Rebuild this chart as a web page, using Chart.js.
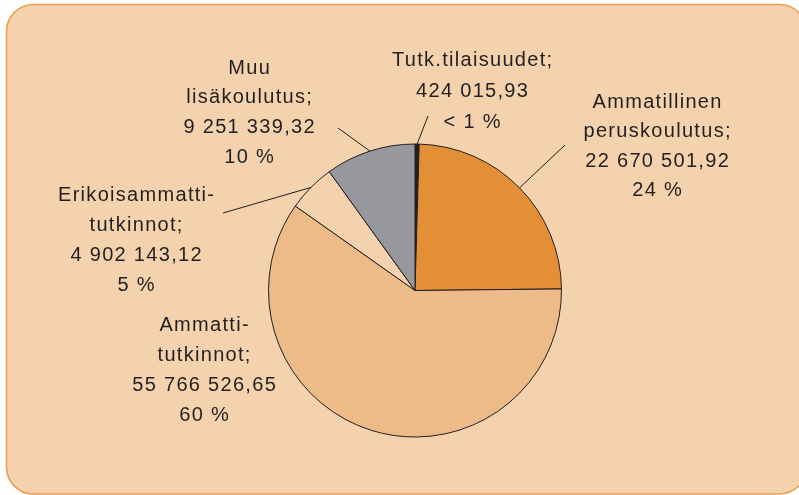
<!DOCTYPE html>
<html>
<head>
<meta charset="utf-8">
<script src="https://cdn.jsdelivr.net/npm/chart.js@4/dist/chart.umd.min.js"></script>
<style>
html,body{margin:0;padding:0;background:#ffffff;}
#wrap{position:relative;width:799px;height:495px;}
</style>
</head>
<body>
<div id="wrap"><canvas id="c" width="799" height="495"></canvas></div>
<script>
// ---- data ----
const categories = ["Tutk.tilaisuudet", "Ammatillinen peruskoulutus", "Ammattitutkinnot", "Erikoisammattitutkinnot", "Muu lisäkoulutus"];
const values = [424015.93, 22670501.92, 55766526.65, 4902143.12, 9251339.32];
const percentLabels = ["< 1 %", "24 %", "60 %", "5 %", "10 %"];
const nameLines = [["Tutk.tilaisuudet;"], ["Ammatillinen", "peruskoulutus;"], ["Ammatti-", "tutkinnot;"], ["Erikoisammatti-", "tutkinnot;"], ["Muu", "lisäkoulutus;"]];

// ---- styles ----
const sliceColors = ["#231F20", "#E38F36", "#ECBB88", "#F4D2AE", "#96989D"];
const bgColor = "#F4D2AE";
const frameColor = "#E8A055";
const textColor = "#231F20";

// label layout: centre x, first line y, line step, leader outer point (or null)
const labelLayout = [
  {x: 472, y: 60, step: 31, leader: [428, 116]},
  {x: 657, y: 102, step: 29.5, leader: [565, 145]},
  {x: 204, y: 325, step: 30, leader: null},
  {x: 136, y: 195, step: 30, leader: [223, 213]},
  {x: 249, y: 68, step: 29.8, leader: [338, 128]}
];

function fmt(v) {
  const parts = v.toFixed(2).split(".");
  const intPart = parts[0].replace(/\B(?=(\d{3})+(?!\d))/g, " ");
  return intPart + "," + parts[1];
}

const framePlugin = {
  id: "frame",
  beforeDraw(chart) {
    const ctx = chart.ctx;
    ctx.save();
    ctx.fillStyle = "#ffffff";
    ctx.fillRect(0, 0, chart.width, chart.height);
    const x = 6.5, y = 4.5, w = 800, h = 489.5, r = 27;
    ctx.beginPath();
    ctx.moveTo(x + r, y);
    ctx.lineTo(x + w - r, y);
    ctx.arcTo(x + w, y, x + w, y + r, r);
    ctx.lineTo(x + w, y + h - r);
    ctx.arcTo(x + w, y + h, x + w - r, y + h, r);
    ctx.lineTo(x + r, y + h);
    ctx.arcTo(x, y + h, x, y + h - r, r);
    ctx.lineTo(x, y + r);
    ctx.arcTo(x, y, x + r, y, r);
    ctx.closePath();
    ctx.fillStyle = bgColor;
    ctx.fill();
    ctx.lineWidth = 1.6;
    ctx.strokeStyle = frameColor;
    ctx.stroke();
    ctx.restore();
  }
};

const labelPlugin = {
  id: "labels",
  afterDraw(chart) {
    const ctx = chart.ctx;
    const meta = chart.getDatasetMeta(0);
    ctx.save();
    ctx.font = "20px 'Liberation Sans', Arial, sans-serif";
    ctx.letterSpacing = "1.3px";
    ctx.fillStyle = textColor;
    ctx.textAlign = "center";
    ctx.textBaseline = "middle";
    meta.data.forEach((arc, i) => {
      const L = labelLayout[i];
      const lines = nameLines[i].concat([fmt(values[i]), percentLabels[i]]);
      lines.forEach((t, k) => {
        ctx.fillText(t, L.x + 0.65, L.y + k * L.step);
      });
      if (L.leader) {
        const p = arc.getProps(["x", "y", "startAngle", "endAngle", "outerRadius"], true);
        const mid = (p.startAngle + p.endAngle) / 2;
        const ax = p.x + Math.cos(mid) * p.outerRadius;
        const ay = p.y + Math.sin(mid) * p.outerRadius;
        ctx.beginPath();
        ctx.moveTo(ax, ay);
        ctx.lineTo(L.leader[0], L.leader[1]);
        ctx.lineWidth = 1;
        ctx.strokeStyle = textColor;
        ctx.stroke();
      }
    });
    ctx.restore();
  }
};

new Chart(document.getElementById("c"), {
  type: "pie",
  data: {
    labels: categories,
    datasets: [{
      data: values,
      backgroundColor: sliceColors,
      borderColor: "#231F20",
      borderWidth: 1
    }]
  },
  options: {
    responsive: false,
    animation: false,
    events: [],
    layout: {padding: {top: 143, bottom: 57, left: 268, right: 237}},
    plugins: {
      legend: {display: false},
      tooltip: {enabled: false}
    }
  },
  plugins: [framePlugin, labelPlugin]
});
</script>
</body>
</html>
